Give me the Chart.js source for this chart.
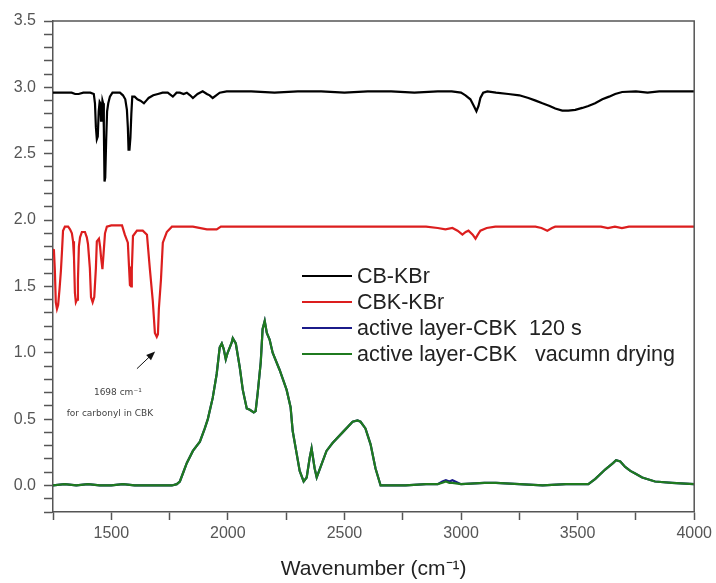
<!DOCTYPE html>
<html>
<head>
<meta charset="utf-8">
<title>FTIR spectra</title>
<script src="https://cdn.jsdelivr.net/npm/chart.js@4.4.1/dist/chart.umd.min.js"></script>
<style>
    html, body { margin: 0; padding: 0; background: #fff; }
    #wrap { position: relative; width: 716px; height: 583px; }
</style>
</head>
<body>
<div id="wrap"><canvas id="ftirChart"></canvas></div>
<script>
// CB-KBr
const cbWave = [1250, 1290, 1330, 1345, 1360, 1380, 1410, 1425, 1430, 1434, 1438, 1442, 1446, 1450, 1453, 1456, 1459, 1462, 1465, 1468, 1471, 1474, 1478, 1482, 1487, 1494, 1505, 1524, 1537, 1550, 1560, 1567, 1571, 1574, 1578, 1582, 1586, 1590, 1600, 1612, 1625, 1640, 1650, 1660, 1680, 1700, 1720, 1742, 1764, 1780, 1794, 1810, 1824, 1838, 1850, 1870, 1892, 1910, 1922, 1935, 1950, 1965, 1995, 2100, 2200, 2300, 2400, 2500, 2600, 2700, 2800, 2900, 2960, 3000, 3019, 3040, 3055, 3066, 3075, 3083, 3095, 3113, 3150, 3203, 3250, 3289, 3320, 3349, 3380, 3404, 3434, 3460, 3490, 3520, 3546, 3575, 3606, 3635, 3661, 3691, 3750, 3800, 3850, 3900, 3950, 4000];
const cbAbs = [2.96, 2.96, 2.96, 2.95, 2.95, 2.96, 2.96, 2.95, 2.88, 2.70, 2.61, 2.63, 2.82, 2.89, 2.88, 2.75, 2.80, 2.90, 2.88, 2.70, 2.29, 2.32, 2.60, 2.82, 2.88, 2.93, 2.96, 2.96, 2.96, 2.94, 2.91, 2.83, 2.70, 2.53, 2.53, 2.62, 2.80, 2.93, 2.93, 2.91, 2.90, 2.88, 2.90, 2.92, 2.94, 2.95, 2.96, 2.96, 2.93, 2.96, 2.96, 2.95, 2.96, 2.94, 2.92, 2.95, 2.97, 2.95, 2.94, 2.92, 2.94, 2.96, 2.97, 2.97, 2.96, 2.97, 2.97, 2.96, 2.97, 2.97, 2.96, 2.97, 2.97, 2.96, 2.94, 2.91, 2.86, 2.82, 2.86, 2.92, 2.96, 2.97, 2.96, 2.95, 2.94, 2.92, 2.90, 2.88, 2.86, 2.84, 2.825, 2.825, 2.83, 2.845, 2.86, 2.88, 2.91, 2.93, 2.95, 2.965, 2.97, 2.96, 2.97, 2.97, 2.97, 2.97];

// CBK-KBr
const cbkWave = [1250, 1254, 1258, 1262, 1267, 1272, 1278, 1284, 1289, 1293, 1301, 1315, 1323, 1331, 1336, 1340, 1344, 1348, 1353, 1357, 1361, 1366, 1374, 1387, 1395, 1400, 1408, 1413, 1420, 1427, 1434, 1438, 1447, 1452, 1456, 1462, 1467, 1473, 1481, 1500, 1546, 1558, 1571, 1576, 1580, 1585, 1588, 1593, 1610, 1635, 1653, 1665, 1678, 1687, 1695, 1700, 1704, 1713, 1721, 1738, 1760, 1794, 1850, 1910, 1952, 1970, 2000, 2100, 2200, 2300, 2400, 2500, 2600, 2700, 2800, 2850, 2900, 2933, 2963, 2985, 3006, 3020, 3032, 3050, 3062, 3072, 3083, 3110, 3147, 3319, 3345, 3370, 3390, 3404, 3600, 3630, 3660, 3690, 3720, 4000];
const cbkAbs = [1.78, 1.77, 1.62, 1.38, 1.33, 1.36, 1.48, 1.62, 1.78, 1.92, 1.95, 1.95, 1.93, 1.90, 1.84, 1.72, 1.45, 1.38, 1.40, 1.55, 1.80, 1.87, 1.91, 1.91, 1.87, 1.82, 1.64, 1.42, 1.38, 1.42, 1.64, 1.84, 1.86, 1.80, 1.72, 1.63, 1.75, 1.90, 1.95, 1.96, 1.96, 1.89, 1.83, 1.65, 1.51, 1.50, 1.62, 1.88, 1.92, 1.92, 1.89, 1.64, 1.39, 1.15, 1.12, 1.14, 1.33, 1.55, 1.83, 1.91, 1.95, 1.95, 1.95, 1.93, 1.93, 1.95, 1.95, 1.95, 1.95, 1.95, 1.95, 1.95, 1.95, 1.95, 1.95, 1.95, 1.94, 1.93, 1.94, 1.92, 1.89, 1.91, 1.92, 1.89, 1.86, 1.89, 1.92, 1.94, 1.95, 1.95, 1.94, 1.92, 1.94, 1.95, 1.95, 1.94, 1.95, 1.94, 1.95, 1.95];

// active layer-CBK (both treatments share the wavenumber grid)
const layerWave = [1250, 1300, 1350, 1400, 1450, 1500, 1550, 1600, 1650, 1700, 1738, 1760, 1781, 1794, 1807, 1824, 1850, 1880, 1901, 1914, 1935, 1952, 1965, 1974, 1982, 1991, 1999, 2017, 2021, 2034, 2051, 2064, 2081, 2094, 2111, 2119, 2128, 2141, 2149, 2158, 2167, 2179, 2192, 2222, 2252, 2269, 2278, 2295, 2308, 2325, 2338, 2351, 2359, 2372, 2381, 2402, 2423, 2449, 2492, 2535, 2556, 2569, 2590, 2612, 2633, 2655, 2700, 2762, 2850, 2900, 2920, 2935, 2950, 2963, 3000, 3100, 3150, 3250, 3350, 3450, 3546, 3576, 3618, 3653, 3665, 3683, 3704, 3726, 3747, 3777, 3832, 3905, 4000];
const layer120sAbs = [0.00, 0.01, 0.00, 0.01, 0.00, 0.00, 0.01, 0.00, 0.00, 0.00, 0.00, 0.00, 0.01, 0.03, 0.09, 0.17, 0.26, 0.33, 0.43, 0.50, 0.66, 0.84, 1.04, 1.07, 1.03, 0.95, 1.00, 1.08, 1.11, 1.07, 0.89, 0.72, 0.58, 0.57, 0.55, 0.56, 0.70, 0.93, 1.18, 1.24, 1.15, 1.10, 1.00, 0.87, 0.72, 0.59, 0.41, 0.24, 0.11, 0.03, 0.06, 0.21, 0.28, 0.13, 0.06, 0.16, 0.26, 0.32, 0.40, 0.48, 0.49, 0.48, 0.43, 0.31, 0.13, 0.00, 0.00, 0.00, 0.01, 0.01, 0.03, 0.04, 0.03, 0.04, 0.01, 0.02, 0.02, 0.01, 0.00, 0.01, 0.01, 0.05, 0.12, 0.17, 0.19, 0.18, 0.14, 0.11, 0.09, 0.06, 0.03, 0.02, 0.01];
const layerVacAbs = [0.00, 0.01, 0.00, 0.01, 0.00, 0.00, 0.01, 0.00, 0.00, 0.00, 0.00, 0.00, 0.01, 0.03, 0.09, 0.17, 0.26, 0.33, 0.43, 0.50, 0.66, 0.84, 1.04, 1.07, 1.03, 0.95, 1.00, 1.08, 1.11, 1.07, 0.89, 0.72, 0.58, 0.57, 0.55, 0.56, 0.70, 0.93, 1.18, 1.24, 1.15, 1.10, 1.00, 0.87, 0.72, 0.59, 0.41, 0.24, 0.11, 0.03, 0.06, 0.21, 0.28, 0.13, 0.06, 0.16, 0.26, 0.32, 0.40, 0.48, 0.49, 0.48, 0.43, 0.31, 0.13, 0.00, 0.00, 0.00, 0.01, 0.01, 0.02, 0.03, 0.02, 0.02, 0.01, 0.02, 0.02, 0.01, 0.00, 0.01, 0.01, 0.05, 0.12, 0.17, 0.19, 0.18, 0.14, 0.11, 0.09, 0.06, 0.03, 0.02, 0.01];

const seriesNames = ['CB-KBr', 'CBK-KBr', 'active layer-CBK  120 s', 'active layer-CBK   vacumn drying'];
const seriesColors = ['#000000', '#dc1e1e', '#1b1b8a', '#1f7a1f'];

// annotation for the carbonyl band: arrow tail, arrow tip, two text lines
const arrowFrom = [1610, 0.88];
const arrowTo = [1688, 1.01];
const noteLines = ['1698 cm⁻¹', 'for carbonyl in CBK'];
const notePos = [[1528, 0.70], [1494, 0.54]];

function toPoints(xs, ys) {
    return xs.map((x, i) => ({ x: x, y: ys[i] }));
}

const frameAndNotes = {
    id: 'frameAndNotes',
    afterDatasetsDraw(chart) {
        const ctx = chart.ctx;
        const xs = chart.scales.x;
        const ys = chart.scales.y;
        const a = chart.chartArea;

        // top and right frame lines
        ctx.save();
        ctx.strokeStyle = '#555';
        ctx.lineWidth = 1.5;
        ctx.beginPath();
        ctx.moveTo(a.left, a.top);
        ctx.lineTo(a.right, a.top);
        ctx.lineTo(a.right, a.bottom);
        ctx.stroke();

        // arrow
        const x0 = xs.getPixelForValue(arrowFrom[0]);
        const y0 = ys.getPixelForValue(arrowFrom[1]);
        const x1 = xs.getPixelForValue(arrowTo[0]);
        const y1 = ys.getPixelForValue(arrowTo[1]);
        const ang = Math.atan2(y1 - y0, x1 - x0);
        ctx.strokeStyle = '#111';
        ctx.fillStyle = '#111';
        ctx.lineWidth = 1;
        ctx.beginPath();
        ctx.moveTo(x0, y0);
        ctx.lineTo(x1 - 6 * Math.cos(ang), y1 - 6 * Math.sin(ang));
        ctx.stroke();
        ctx.beginPath();
        ctx.moveTo(x1, y1);
        ctx.lineTo(x1 - 9 * Math.cos(ang) + 3.5 * Math.sin(ang), y1 - 9 * Math.sin(ang) - 3.5 * Math.cos(ang));
        ctx.lineTo(x1 - 9 * Math.cos(ang) - 3.5 * Math.sin(ang), y1 - 9 * Math.sin(ang) + 3.5 * Math.cos(ang));
        ctx.closePath();
        ctx.fill();

        ctx.fillStyle = '#444';
        ctx.font = '9px "DejaVu Sans", sans-serif';
        ctx.textAlign = 'center';
        ctx.textBaseline = 'middle';
        noteLines.forEach((txt, i) => {
            ctx.fillText(txt, xs.getPixelForValue(notePos[i][0]), ys.getPixelForValue(notePos[i][1]));
        });

        // legend
        const lx = a.left + 249;
        const ly = a.top + 255;
        ctx.font = '21.5px "Liberation Sans", Arial, sans-serif';
        ctx.textAlign = 'left';
        seriesNames.forEach((name, i) => {
            const y = ly + i * 26;
            ctx.strokeStyle = seriesColors[i];
            ctx.lineWidth = 2;
            ctx.beginPath();
            ctx.moveTo(lx, y);
            ctx.lineTo(lx + 50, y);
            ctx.stroke();
            ctx.fillStyle = '#222';
            ctx.fillText(name, lx + 55, y + 1);
        });
        ctx.restore();
    }
};

document.addEventListener('DOMContentLoaded', () => {
    const ctx = document.getElementById('ftirChart').getContext('2d');

    const lineStyle = (i) => ({
        borderColor: seriesColors[i],
        backgroundColor: seriesColors[i],
        borderWidth: 2.2,
        pointRadius: 0,
        tension: 0,
        fill: false
    });

    new Chart(ctx, {
        type: 'line',
        data: {
            datasets: [
                Object.assign({ label: seriesNames[0], data: toPoints(cbWave, cbAbs), order: 0 }, lineStyle(0)),
                Object.assign({ label: seriesNames[1], data: toPoints(cbkWave, cbkAbs), order: 1 }, lineStyle(1)),
                Object.assign({ label: seriesNames[2], data: toPoints(layerWave, layer120sAbs), order: 3 }, lineStyle(2)),
                Object.assign({ label: seriesNames[3], data: toPoints(layerWave, layerVacAbs), order: 2 }, lineStyle(3))
            ]
        },
        options: {
            responsive: true,
            maintainAspectRatio: false,
            animation: false,
            layout: { padding: { top: 21, right: 21, left: 0, bottom: 0 } },
            plugins: {
                legend: { display: false },
                tooltip: { enabled: false }
            },
            scales: {
                x: {
                    type: 'linear',
                    min: 1250,
                    max: 4000,
                    afterFit: (scale) => { scale.height = 71; },
                    grid: { drawOnChartArea: false, drawTicks: true, tickLength: 8, tickColor: '#555', tickWidth: 1.5 },
                    border: { display: true, color: '#555', width: 1.5 },
                    ticks: {
                        stepSize: 250,
                        autoSkip: false,
                        maxRotation: 0,
                        padding: 4,
                        color: '#555',
                        font: { family: '"Liberation Sans", Arial, sans-serif', size: 16 },
                        callback: (v) => (v % 500 === 0 ? String(v) : '')
                    },
                    title: {
                        display: true,
                        text: 'Wavenumber (cm⁻¹)',
                        color: '#222',
                        font: { family: '"Liberation Sans", Arial, sans-serif', size: 21 },
                        padding: { top: 4, bottom: 1 }
                    }
                },
                y: {
                    type: 'linear',
                    min: -0.2,
                    max: 3.5,
                    afterFit: (scale) => { scale.width = 53; },
                    grid: { drawOnChartArea: false, drawTicks: true, tickLength: 9, tickColor: '#555', tickWidth: 1.5 },
                    border: { display: true, color: '#555', width: 1.5 },
                    ticks: {
                        stepSize: 0.1,
                        autoSkip: false,
                        padding: 8,
                        color: '#555',
                        font: { family: '"Liberation Sans", Arial, sans-serif', size: 16 },
                        callback: (v) => {
                            const half = v * 2;
                            return Math.abs(half - Math.round(half)) < 1e-6 ? v.toFixed(1) : '';
                        }
                    }
                }
            }
        },
        plugins: [frameAndNotes]
    });
});
</script>
</body>
</html>
